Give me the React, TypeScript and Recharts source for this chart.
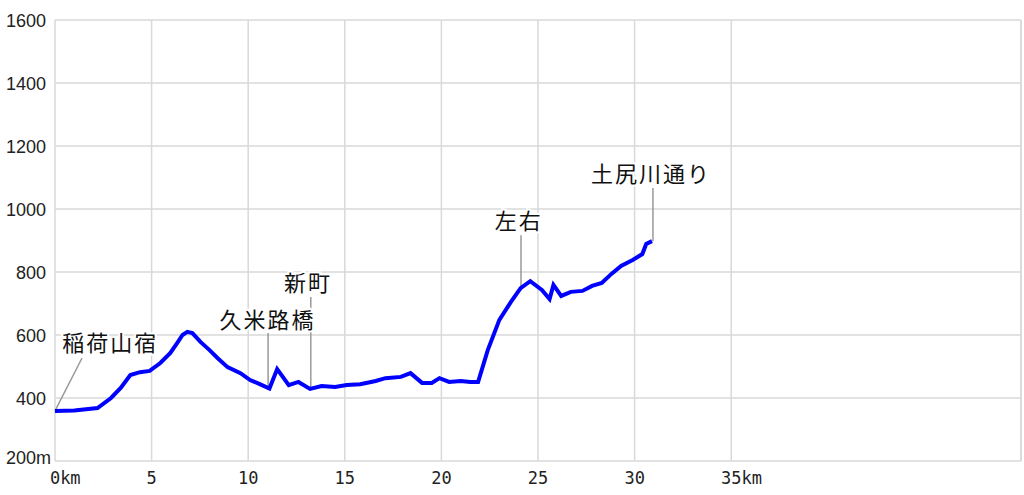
import { LineChart, Line, XAxis, YAxis, CartesianGrid, ReferenceLine, ReferenceDot } from "recharts";

// elevation profile: distance (km) and elevation (m)
const distKm = [
  0, 1.0, 2.2, 2.9, 3.4, 3.9, 4.4, 4.9, 5.45, 5.97, 6.33, 6.6, 6.85, 7.11, 7.53, 8.0, 8.41,
  8.93, 9.6, 10.1, 10.6, 11.1, 11.5, 12.1, 12.6, 13.2, 13.8, 14.5, 15.1, 15.8, 16.6, 17.1, 17.9,
  18.4, 19.0, 19.5, 19.9, 20.4, 21.0, 21.5, 21.9, 22.4, 23.0, 23.6, 24.1, 24.6, 25.2, 25.6,
  25.8, 26.2, 26.7, 27.3, 27.8, 28.3, 28.8, 29.3, 29.9, 30.4, 30.6, 30.9,
];
const elevM = [
  359, 360, 368, 400, 432, 473, 482, 486, 511, 543, 575, 600, 610, 606, 578, 552, 527,
  498, 479, 457, 444, 430, 492, 441, 451, 429, 438, 435, 441, 444, 454, 463, 467,
  479, 448, 448, 463, 451, 454, 451, 451, 552, 648, 705, 749, 771, 743, 714,
  759, 724, 737, 740, 756, 765, 794, 819, 838, 857, 889, 898,
];

const xTicks = [0, 5, 10, 15, 20, 25, 30, 35];
const yTicks = [200, 400, 600, 800, 1000, 1200, 1400, 1600];

// place names: leader line from (lineKm, fromM) to (lineTopKm, toM), label at (labelKm, labelM)
const placeNames = ["稲荷山宿", "久米路橋", "新町", "左右", "土尻川通り"];
const placeLineKm = [0, 11.03, 13.24, 24.12, 30.95];
const placeLineTopKm = [1.4, 11.03, 13.24, 24.12, 30.95];
const placeFromM = [359, 430, 425, 752, 898];
const placeToM = [527, 606, 721, 917, 1067];
const placeLabelKm = [2.86, 11.0, 13.1, 24.0, 30.85];
const placeLabelM = [575, 648, 765, 962, 1111];

const data = distKm.map((d, i) => ({ km: d, elev: elevM[i] }));

const GRID = "#d9d9d9";

function XTick({ x, y, payload }: any) {
  const v = payload.value;
  const s = String(v);
  const unit = v === 0 || v === 35 ? "km" : "";
  return (
    <text
      x={x - (s.length * 10.2) / 2}
      y={y + 15}
      textAnchor="start"
      fontFamily="DejaVu Sans Mono"
      fontSize={17}
      fill="#222"
    >
      {s + unit}
    </text>
  );
}

function YTick({ x, y, payload }: any) {
  const v = payload.value;
  const isBottom = v === 200;
  return (
    <text
      x={isBottom ? 51 : 46}
      y={isBottom ? y + 3 : y + 7}
      textAnchor="end"
      fontFamily="Liberation Sans"
      fontSize={18}
      fill="#222"
    >
      {isBottom ? "200m" : String(v)}
    </text>
  );
}

export default function App() {
  return (
    <div style={{ position: "absolute", left: 0, top: 0, background: "#fff" }}>
      <LineChart
        width={1024}
        height={495}
        data={data}
        margin={{ top: 20, right: 3, left: 5, bottom: 4 }}
      >
        <CartesianGrid stroke={GRID} strokeWidth={1.5} />
        <XAxis
          dataKey="km"
          type="number"
          domain={[0, 50]}
          ticks={xTicks}
          axisLine={false}
          tickLine={false}
          height={30}
          tick={<XTick />}
        />
        <YAxis
          type="number"
          domain={[200, 1600]}
          ticks={yTicks}
          axisLine={false}
          tickLine={false}
          width={50}
          tick={<YTick />}
        />
        <ReferenceLine x={50} stroke={GRID} strokeWidth={1.5} />
        {placeNames.map((name, i) => (
          <ReferenceLine
            key={"l" + name}
            segment={[
              { x: placeLineKm[i], y: placeFromM[i] },
              { x: placeLineTopKm[i], y: placeToM[i] },
            ]}
            stroke="#999"
            strokeWidth={1.5}
          />
        ))}
        <Line
          type="linear"
          dataKey="elev"
          stroke="#0000ff"
          strokeWidth={4}
          dot={false}
          isAnimationActive={false}
        />
        {placeNames.map((name, i) => (
          <ReferenceDot
            key={"t" + name}
            x={placeLabelKm[i]}
            y={placeLabelM[i]}
            r={0}
            shape={(p: any) => (
              <text
                x={p.cx}
                y={p.cy + 8}
                textAnchor="middle"
                fontFamily="Noto Sans CJK JP"
                fontSize={22}
                letterSpacing={2}
                fill="#111"
                stroke="#fff"
                strokeWidth={4}
                paintOrder="stroke"
              >
                {name}
              </text>
            )}
          />
        ))}
      </LineChart>
    </div>
  );
}
